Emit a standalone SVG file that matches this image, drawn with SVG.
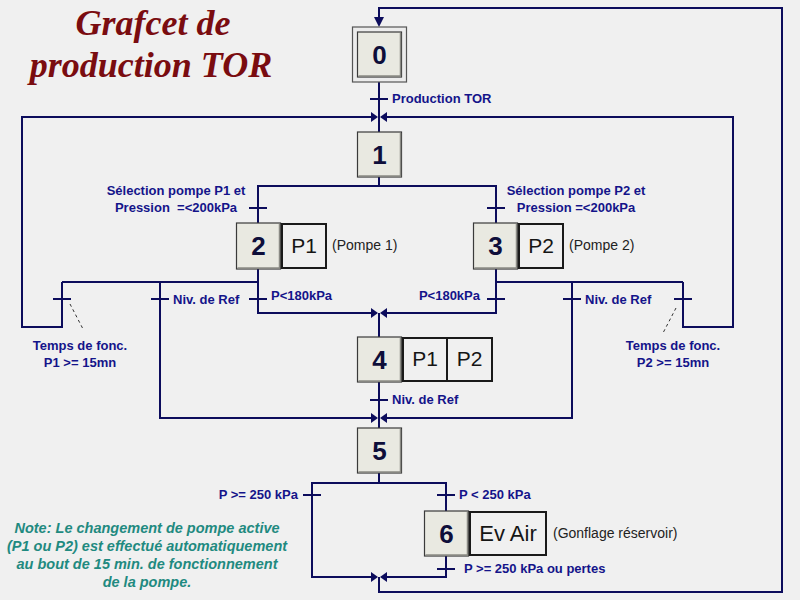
<svg xmlns="http://www.w3.org/2000/svg" width="800" height="600" viewBox="0 0 800 600">
<defs>
<style>
.ln{fill:none;stroke:#0c0c5c;stroke-width:2}
.tk{stroke:#0c0c5c;stroke-width:2}
.ar{fill:#0c0c5c}
.step{fill:#e9e9e1;stroke:#3a3a3a;stroke-width:1.2}
.sh{fill:none;stroke:#8a8a84;stroke-width:1.5}
.act{fill:#f0f0f0;stroke:#1a1a1a;stroke-width:2}
.num{font-family:"Liberation Sans",Arial,sans-serif;font-weight:bold;font-size:26px;fill:#0e0e3a;text-anchor:middle}
.atx{font-family:"Liberation Sans",Arial,sans-serif;font-size:21px;fill:#151515;text-anchor:middle}
.lbl{font-family:"Liberation Sans",Arial,sans-serif;font-weight:bold;font-size:13px;fill:#14148a}
.cm{font-family:"Liberation Sans",Arial,sans-serif;font-size:14px;fill:#222}
.note{font-family:"Liberation Sans",Arial,sans-serif;font-weight:bold;font-style:italic;font-size:14.5px;fill:#1f8a80;text-anchor:middle}
.title{font-family:"Liberation Serif","Times New Roman",serif;font-weight:bold;font-style:italic;font-size:36px;fill:#7a0c10;text-anchor:middle}
.dash{stroke:#333;stroke-width:1;stroke-dasharray:3,3}
</style>
</defs>
<rect width="800" height="600" fill="#f0f0f0"/>
<g id="title">
<text class="title" x="153" y="35">Grafcet de</text>
<text class="title" x="151" y="77">production TOR</text>
</g>
<g id="connectors">
<polyline class="ln" points="379,577 379,592 782,592 782,8 379,8 379,20"/>
<path class="ar" d="M374,17 L384,17 L379,27 Z"/>
<line class="ln" x1="379" y1="82" x2="379" y2="132"/>
<line class="tk" x1="370" y1="99" x2="388" y2="99"/>
<polyline class="ln" points="371,117 22,117 22,327 62,327 62,282"/>
<polyline class="ln" points="387,117 733,117 733,327 683,327 683,282"/>
<path class="ar" d="M371,112 L378,117 L371,122 Z"/>
<path class="ar" d="M387,112 L380,117 L387,122 Z"/>
<line class="ln" x1="379" y1="177" x2="379" y2="186"/>
<polyline class="ln" points="258,223 258,186 496,186 496,223"/>
<line class="tk" x1="249" y1="208" x2="267" y2="208"/>
<line class="tk" x1="487" y1="208" x2="505" y2="208"/>
<polyline class="ln" points="258,269 258,313 371,313"/>
<polyline class="ln" points="62,282 258,282"/>
<polyline class="ln" points="160,282 160,418 371,418"/>
<line class="tk" x1="249" y1="299" x2="267" y2="299"/>
<line class="tk" x1="151" y1="299" x2="169" y2="299"/>
<line class="tk" x1="53" y1="299" x2="71" y2="299"/>
<polyline class="ln" points="496,269 496,313 387,313"/>
<polyline class="ln" points="496,282 683,282"/>
<polyline class="ln" points="572,282 572,418 387,418"/>
<line class="tk" x1="487" y1="299" x2="505" y2="299"/>
<line class="tk" x1="563" y1="299" x2="581" y2="299"/>
<line class="tk" x1="674" y1="299" x2="692" y2="299"/>
<path class="ar" d="M371,308 L378,313 L371,318 Z"/>
<path class="ar" d="M387,308 L380,313 L387,318 Z"/>
<line class="ln" x1="379" y1="313" x2="379" y2="337"/>
<line class="ln" x1="379" y1="382" x2="379" y2="428"/>
<line class="tk" x1="370" y1="400" x2="388" y2="400"/>
<path class="ar" d="M371,413 L378,418 L371,423 Z"/>
<path class="ar" d="M387,413 L380,418 L387,423 Z"/>
<line class="ln" x1="379" y1="473" x2="379" y2="483"/>
<polyline class="ln" points="371,577 312,577 312,483 446,483 446,511"/>
<line class="tk" x1="303" y1="495" x2="321" y2="495"/>
<line class="tk" x1="437" y1="495" x2="455" y2="495"/>
<polyline class="ln" points="446,556 446,577 387,577"/>
<line class="tk" x1="437" y1="569" x2="455" y2="569"/>
<path class="ar" d="M371,572 L378,577 L371,582 Z"/>
<path class="ar" d="M387,572 L380,577 L387,582 Z"/>
<line class="dash" x1="70" y1="304" x2="83" y2="329"/>
<line class="dash" x1="676" y1="308" x2="663" y2="333"/>
</g>
<g id="step0">
<rect x="352.5" y="27" width="54" height="55" fill="#ececec" stroke="#555" stroke-width="1.2"/>
<rect class="step" x="357.5" y="32" width="44" height="45"/>
<polyline class="sh" points="358.5,76 400.5,76 400.5,33"/>
<text class="num" x="379.5" y="64">0</text>
</g>
<g id="step1">
<rect class="step" x="357.5" y="132" width="44" height="45"/>
<polyline class="sh" points="358.5,176 400.5,176 400.5,133"/>
<text class="num" x="379.5" y="164">1</text>
</g>
<g id="step2">
<rect class="step" x="236.5" y="223" width="44" height="46"/>
<polyline class="sh" points="237.5,268 279.5,268 279.5,224"/>
<text class="num" x="258.5" y="255">2</text>
<rect class="act" x="282" y="224" width="44" height="44"/>
<text class="atx" x="304" y="253">P1</text>
<text class="cm" x="332" y="250">(Pompe 1)</text>
</g>
<g id="step3">
<rect class="step" x="473.5" y="223" width="44" height="46"/>
<polyline class="sh" points="474.5,268 516.5,268 516.5,224"/>
<text class="num" x="495.5" y="255">3</text>
<rect class="act" x="519" y="224" width="44" height="44"/>
<text class="atx" x="541" y="253">P2</text>
<text class="cm" x="569" y="250">(Pompe 2)</text>
</g>
<g id="step4">
<rect class="step" x="357.5" y="337" width="44" height="45"/>
<polyline class="sh" points="358.5,381 400.5,381 400.5,338"/>
<text class="num" x="379.5" y="369">4</text>
<rect class="act" x="403" y="338" width="44" height="43"/>
<text class="atx" x="425" y="366">P1</text>
<rect class="act" x="447" y="338" width="45" height="43"/>
<text class="atx" x="469.5" y="366">P2</text>
</g>
<g id="step5">
<rect class="step" x="357.5" y="428" width="44" height="45"/>
<polyline class="sh" points="358.5,472 400.5,472 400.5,429"/>
<text class="num" x="379.5" y="460">5</text>
</g>
<g id="step6">
<rect class="step" x="424.5" y="511" width="44" height="45"/>
<polyline class="sh" points="425.5,555 467.5,555 467.5,512"/>
<text class="num" x="446.5" y="543">6</text>
<rect class="act" x="470" y="512" width="76" height="43"/>
<text class="atx" x="508" y="541" style="font-size:22px">Ev Air</text>
<text class="cm" x="553" y="538">(Gonflage réservoir)</text>
</g>
<g id="labels">
<text class="lbl" x="392" y="103">Production TOR</text>
<text class="lbl" x="176" y="195" text-anchor="middle">Sélection pompe P1 et</text>
<text class="lbl" x="176" y="212" text-anchor="middle">Pression &#160;=&lt;200kPa</text>
<text class="lbl" x="576" y="195" text-anchor="middle">Sélection pompe P2 et</text>
<text class="lbl" x="576" y="212" text-anchor="middle">Pression =&lt;200kPa</text>
<text class="lbl" x="173" y="304">Niv. de Ref</text>
<text class="lbl" x="271" y="300">P&lt;180kPa</text>
<text class="lbl" x="480" y="300" text-anchor="end">P&lt;180kPa</text>
<text class="lbl" x="585" y="304">Niv. de Ref</text>
<text class="lbl" x="80" y="350" text-anchor="middle">Temps de fonc.</text>
<text class="lbl" x="80" y="367" text-anchor="middle">P1 &gt;= 15mn</text>
<text class="lbl" x="673" y="350" text-anchor="middle">Temps de fonc.</text>
<text class="lbl" x="673" y="367" text-anchor="middle">P2 &gt;= 15mn</text>
<text class="lbl" x="392" y="404">Niv. de Ref</text>
<text class="lbl" x="298" y="499" text-anchor="end">P &gt;= 250 kPa</text>
<text class="lbl" x="459" y="499">P &lt; 250 kPa</text>
<text class="lbl" x="464" y="573">P &gt;= 250 kPa ou pertes</text>
</g>
<g id="note">
<text class="note" x="147" y="533">Note: Le changement de pompe active</text>
<text class="note" x="147" y="551">(P1 ou P2) est effectué automatiquement</text>
<text class="note" x="147" y="569">au bout de 15 min. de fonctionnement</text>
<text class="note" x="147" y="587">de la pompe.</text>
</g>
</svg>
